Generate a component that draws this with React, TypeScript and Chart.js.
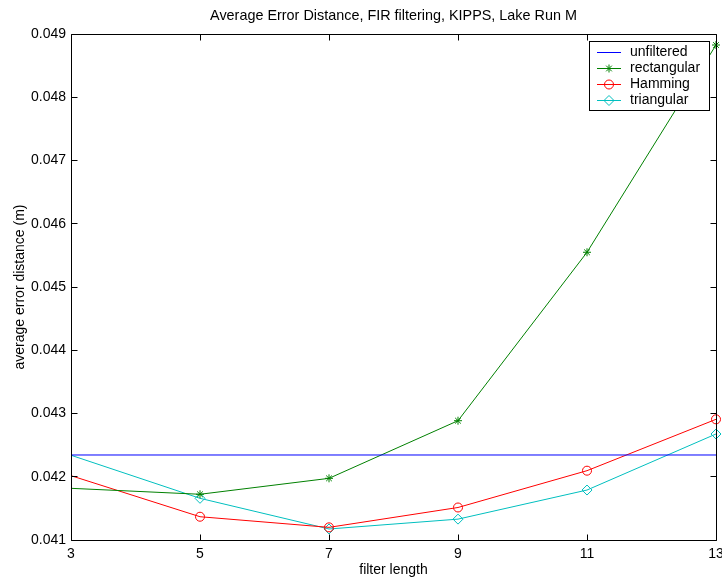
import React, { useEffect, useRef } from "react";
import { Chart, registerables } from "chart.js";

Chart.register(...registerables);

// ---- data ----
const FILTER_LENGTHS = [3, 5, 7, 9, 11, 13];
const UNFILTERED = [0.042344, 0.042344, 0.042344, 0.042344, 0.042344, 0.042344];
const RECTANGULAR = [0.041817, 0.041723, 0.041975, 0.042886, 0.045549, 0.048826];
const HAMMING = [0.042017, 0.041368, 0.041200, 0.041514, 0.042096, 0.042908];
const TRIANGULAR = [0.042340, 0.041659, 0.041174, 0.041330, 0.041790, 0.042676];

const SERIES_NAMES = ["unfiltered", "rectangular", "Hamming", "triangular"];
const SERIES_COLORS = ["#0000ff", "#008000", "#ff0000", "#00bfbf"];
const X_TICKS = [3, 5, 7, 9, 11, 13];
const Y_TICKS = [0.041, 0.042, 0.043, 0.044, 0.045, 0.046, 0.047, 0.048, 0.049];
const TITLE = "Average Error Distance, FIR filtering, KIPPS, Lake Run M";
const X_LABEL = "filter length";
const Y_LABEL = "average error distance (m)";

const FONT = "'Liberation Sans', Arial, Helvetica, sans-serif";

type Marker = "none" | "star" | "circle" | "diamond";

function drawMarker(ctx: CanvasRenderingContext2D, kind: Marker, x: number, y: number, r: number) {
  if (kind === "none") return;
  ctx.beginPath();
  if (kind === "star") {
    ctx.moveTo(x - r, y); ctx.lineTo(x + r, y);
    ctx.moveTo(x, y - r); ctx.lineTo(x, y + r);
    const d = r * Math.SQRT1_2;
    ctx.moveTo(x - d, y - d); ctx.lineTo(x + d, y + d);
    ctx.moveTo(x - d, y + d); ctx.lineTo(x + d, y - d);
    ctx.stroke();
  } else if (kind === "circle") {
    ctx.arc(x, y, r, 0, Math.PI * 2);
    ctx.stroke();
  } else if (kind === "diamond") {
    ctx.moveTo(x - r, y); ctx.lineTo(x, y - r); ctx.lineTo(x + r, y); ctx.lineTo(x, y + r);
    ctx.closePath();
    ctx.stroke();
  }
}

const boxTicksPlugin = {
  id: "boxTicks",
  afterDatasetsDraw(chart: any) {
    const { ctx, chartArea: a, scales } = chart;
    const xs = scales.x, ys = scales.y;
    const crisp = (v: number) => Math.floor(v) + 0.5;
    const L = crisp(a.left), R = crisp(a.right), T = crisp(a.top), B = crisp(a.bottom);
    const tl = 6;
    ctx.save();
    ctx.strokeStyle = "#000";
    ctx.lineWidth = 1;
    ctx.beginPath();
    ctx.rect(L, T, R - L, B - T);
    ctx.stroke();
    ctx.beginPath();
    xs.ticks.forEach((t: any) => {
      const px = crisp(xs.getPixelForValue(t.value));
      ctx.moveTo(px, B); ctx.lineTo(px, B - tl);
      ctx.moveTo(px, T); ctx.lineTo(px, T + tl);
    });
    ys.ticks.forEach((t: any) => {
      const py = crisp(ys.getPixelForValue(t.value));
      ctx.moveTo(L, py); ctx.lineTo(L + tl, py);
      ctx.moveTo(R, py); ctx.lineTo(R - tl, py);
    });
    ctx.stroke();
    ctx.restore();
  },
};

const legendPlugin = {
  id: "matlabLegend",
  afterDraw(chart: any) {
    const { ctx, chartArea: a } = chart;
    const dsets = chart.data.datasets;
    ctx.save();
    ctx.font = `14px ${FONT}`;
    const textW = Math.max(...dsets.map((d: any) => ctx.measureText(d.label).width));
    const padL = 8, lineLen = 24, gap = 9, padR = 9, rowH = 16, padT = 3, padB = 2;
    const w = Math.round(padL + lineLen + gap + textW + padR);
    const h = padT + rowH * dsets.length + padB;
    const right = Math.round(a.right) - 7;
    const top = Math.round(a.top) + 7;
    const left = right - w;
    ctx.fillStyle = "#fff";
    ctx.fillRect(left, top, w, h);
    ctx.strokeStyle = "#000";
    ctx.lineWidth = 1;
    ctx.strokeRect(left + 0.5, top + 0.5, w, h);
    dsets.forEach((d: any, i: number) => {
      const cy = Math.round(top + padT + rowH / 2 + i * rowH) + 0.5;
      const x0 = left + padL;
      const col = SERIES_COLORS[i];
      ctx.strokeStyle = col;
      ctx.lineWidth = 1;
      ctx.beginPath();
      ctx.moveTo(x0, cy);
      ctx.lineTo(x0 + lineLen, cy);
      ctx.stroke();
      drawMarker(ctx, d.marker as Marker, x0 + lineLen / 2, cy, d.markerSize);
      ctx.fillStyle = "#000";
      ctx.textAlign = "left";
      ctx.textBaseline = "middle";
      ctx.fillText(d.label, x0 + lineLen + gap, cy);
    });
    ctx.restore();
  },
};

function makeDataset(label: string, values: number[], color: string, marker: Marker, size: number) {
  const styleMap: Record<Marker, any> = { none: "circle", star: "star", circle: "circle", diamond: "rectRot" };
  return {
    label,
    data: FILTER_LENGTHS.map((x, i) => ({ x, y: values[i] })),
    borderColor: color,
    backgroundColor: "rgba(0,0,0,0)",
    borderWidth: 1,
    pointStyle: styleMap[marker],
    pointRadius: (c: any) => (marker === "none" || c.dataIndex === 0 ? 0 : size),
    pointBorderColor: color,
    pointBackgroundColor: "rgba(0,0,0,0)",
    pointBorderWidth: 1,
    tension: 0,
    clip: false,
    marker,
    markerSize: size,
  };
}

export default function App() {
  const ref = useRef<HTMLCanvasElement | null>(null);

  useEffect(() => {
    document.body.style.margin = "0";
    if (!ref.current) return;
    Chart.defaults.color = "#000";
    Chart.defaults.font.family = FONT;
    const chart = new Chart(ref.current, {
      type: "line",
      data: {
        datasets: [
          makeDataset(SERIES_NAMES[0], UNFILTERED, SERIES_COLORS[0], "none", 0),
          makeDataset(SERIES_NAMES[1], RECTANGULAR, SERIES_COLORS[1], "star", 4),
          makeDataset(SERIES_NAMES[2], HAMMING, SERIES_COLORS[2], "circle", 4.5),
          makeDataset(SERIES_NAMES[3], TRIANGULAR, SERIES_COLORS[3], "diamond", 5),
        ] as any,
      },
      options: {
        animation: false,
        responsive: false,
        devicePixelRatio: 1,
        layout: { padding: { left: 0, right: 6, top: 0, bottom: 0 } },
        plugins: {
          legend: { display: false },
          tooltip: { enabled: false },
          title: {
            display: true,
            fullSize: false,
            text: TITLE,
            color: "#000",
            font: { size: 14.4, family: FONT, weight: "normal" },
            padding: { top: 7, bottom: 9.72 },
          },
        },
        scales: {
          x: {
            type: "linear",
            min: 3,
            max: 13,
            afterBuildTicks: (s: any) => {
              s.ticks = X_TICKS.map((v) => ({ value: v }));
            },
            afterFit: (s: any) => {
              s.height = 39;
              s.paddingLeft = 0;
              s.paddingRight = 0;
            },
            ticks: {
              color: "#000",
              font: { size: 14, family: FONT },
              padding: 6,
              maxRotation: 0,
              autoSkip: false,
              callback: (v: any) => String(v),
            },
            grid: { display: false, drawTicks: false },
            border: { display: false },
            title: {
              display: true,
              text: X_LABEL,
              color: "#000",
              font: { size: 14, family: FONT },
              padding: { top: 0, bottom: 0 },
            },
          },
          y: {
            type: "linear",
            min: 0.041,
            max: 0.049,
            afterBuildTicks: (s: any) => {
              s.ticks = Y_TICKS.map((v) => ({ value: v }));
            },
            afterFit: (s: any) => {
              s.width = 71;
            },
            ticks: {
              color: "#000",
              font: { size: 14, family: FONT },
              padding: 5,
              autoSkip: false,
              callback: (v: any) => Number(v).toFixed(3),
            },
            grid: { display: false, drawTicks: false },
            border: { display: false },
            title: {
              display: true,
              text: Y_LABEL,
              color: "#000",
              font: { size: 14, family: FONT },
              padding: { top: 12, bottom: 0 },
            },
          },
        },
      } as any,
      plugins: [boxTicksPlugin, legendPlugin],
    });
    return () => chart.destroy();
  }, []);

  return (
    <div style={{ width: 722, height: 579, position: "relative" }}>
      <canvas ref={ref} width={722} height={579} style={{ display: "block" }} />
    </div>
  );
}
